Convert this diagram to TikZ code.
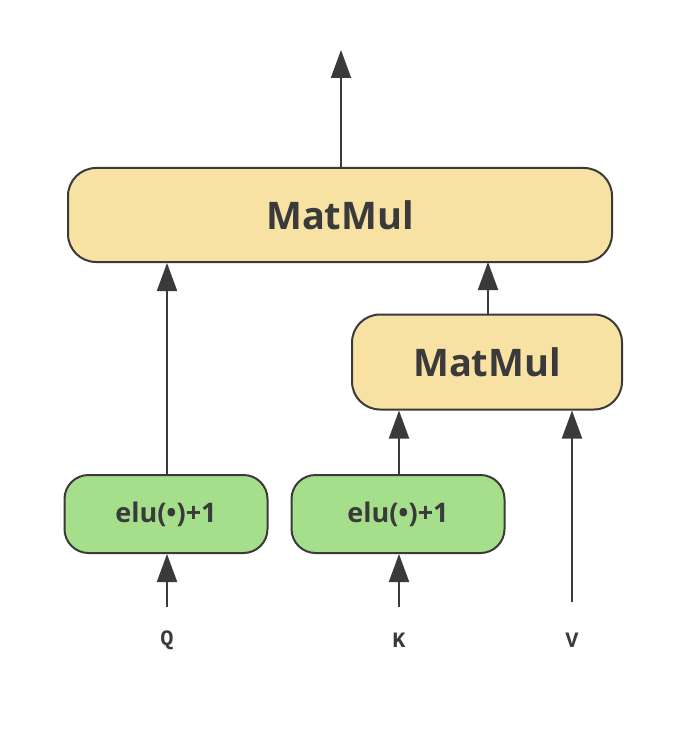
\documentclass[tikz,border=0pt]{standalone}
\usepackage{fontspec}
\setmainfont{Open Sans}
\newfontfamily\monof{Liberation Mono}
\usetikzlibrary{arrows.meta}
\definecolor{ylw}{HTML}{F7E2A4}
\definecolor{grn}{HTML}{A6DF8C}
\definecolor{edge}{HTML}{3A3A3A}
\tikzset{
  box/.style={draw=edge,line width=2pt,rounded corners=28pt,font=\bfseries,text=edge},
  arr/.style={draw=edge,line width=2pt,-{Triangle[length=28pt,width=20pt]}},
  lab/.style={font=\monof\bfseries\fontsize{22}{24}\selectfont,text=edge}
}
\begin{document}
\begin{tikzpicture}[x=1pt,y=-1pt]
\useasboundingbox (0,0) rectangle (685,746);
\node[box,fill=ylw,minimum width=544pt,minimum height=94pt,font=\bfseries\fontsize{38}{40}\selectfont] (big) at (340,215) {MatMul};
\node[box,fill=ylw,minimum width=270pt,minimum height=95pt,font=\bfseries\fontsize{38}{40}\selectfont] (small) at (487,362) {MatMul};
\node[box,fill=grn,minimum width=203pt,minimum height=78pt,rounded corners=24pt,font=\bfseries\fontsize{27}{30}\selectfont] (e1) at (166,514) {elu(•)+1};
\node[box,fill=grn,minimum width=213pt,minimum height=78pt,rounded corners=24pt,font=\bfseries\fontsize{27}{30}\selectfont] (e2) at (398,514) {elu(•)+1};
\node[lab] (q) at (167,640) {Q};
\node[lab] (k) at (399,640) {K};
\node[lab] (v) at (572,640) {V};
\coordinate (top) at (341,50);
\coordinate (qs) at (167,607);
\coordinate (ks) at (399,607);
\coordinate (vs) at (572,602);
\draw[arr] (big.north -| top) -- (top);
\draw[arr] (qs) -- (qs |- e1.south);
\draw[arr] (ks) -- (ks |- e2.south);
\draw[arr] (vs) -- (vs |- small.south);
\draw[arr] (qs |- e1.north) -- (qs |- big.south);
\draw[arr] (ks |- e2.north) -- (ks |- small.south);
\draw[arr] (488,315) -- (488,262);
\end{tikzpicture}
\end{document}
